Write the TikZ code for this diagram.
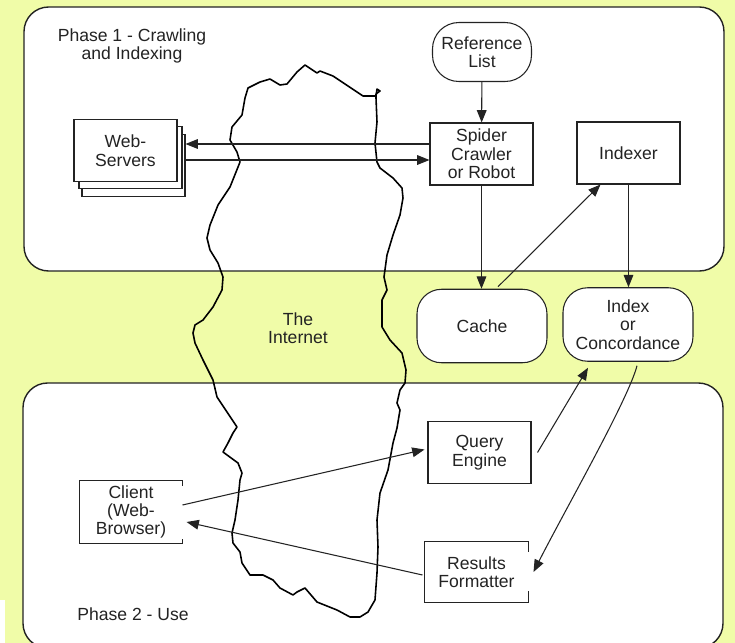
\documentclass[tikz,border=0pt]{standalone}
\usepackage{fontspec}
\setmainfont{Liberation Sans}
\usetikzlibrary{arrows.meta, calc, positioning}
\definecolor{bgyellow}{RGB}{240, 252, 168}
\definecolor{lineblack}{RGB}{35, 35, 35}

\begin{document}
\begin{tikzpicture}[x=0.02cm, y=-0.02cm,
    box/.style={draw=lineblack, line width=0.6pt, fill=white, align=center, inner sep=0pt,
        minimum width=2.06cm, minimum height=1.24cm, text=lineblack, font=\fontsize{10}{10.5}\selectfont},
    openbox/.style={box, draw=none},
    store/.style={box, rounded corners=14pt, minimum width=2.6cm, minimum height=1.47cm},
    refbox/.style={box, rounded corners=15pt, minimum width=1.98cm, minimum height=1.18cm},
    phase/.style={draw=lineblack, line width=0.8pt, fill=white, rounded corners=14pt},
    boxline/.style={draw=lineblack, line width=0.6pt},
    arr/.style={-{Triangle[length=7pt, width=5.5pt]}, line width=0.6pt, lineblack},
    lbl/.style={align=center, inner sep=0pt, text=lineblack, font=\fontsize{10}{10.5}\selectfont}]
    \useasboundingbox (0,0) rectangle (735,643);
    \fill[bgyellow] (0,0) rectangle (735,643);
    \fill[white] (0,600) rectangle (5,643);

    % Phase panels
    \draw[phase] (24,7) rectangle (724,271);
    \draw[phase] (23,383) rectangle (723,648);
    \node[lbl] (phaseone) at (132,46) {Phase 1 - Crawling\\and Indexing};
    \node[lbl, anchor=west] (phasetwo) at (77,614) {Phase 2 - Use};

    % The Internet
    \draw[line width=0.9pt, line join=round] (248,88) -- (260,82) -- (270,79) -- (280,85) -- (287,84)
        -- (297,72) -- (305,65) -- (317,73) -- (320,71) -- (333,76) -- (363,96) -- (376,96)
        -- (377,89) -- (380,91) -- (376,94) -- (376,98) -- (377,122) -- (375,143) -- (377,162)
        -- (380,168) -- (393,178) -- (402,188) -- (403,198) -- (400,215) -- (393,235) -- (387,255)
        -- (384,277) -- (387,290) -- (382,300) -- (382,327) -- (390,340) -- (402,353) -- (406,370)
        -- (405,383) -- (400,390) -- (397,403) -- (400,410) -- (397,428) -- (393,443) -- (388,470)
        -- (380,493) -- (377,520) -- (378,547) -- (377,573) -- (375,600) -- (368,612) -- (360,617)
        -- (350,617) -- (337,610) -- (317,602) -- (305,588) -- (297,592) -- (293,595) -- (280,588)
        -- (273,580) -- (263,575) -- (250,575) -- (242,563) -- (240,552) -- (233,543) -- (232,533)
        -- (235,520) -- (238,500) -- (240,480) -- (242,473) -- (238,463) -- (223,452) -- (228,443)
        -- (233,433) -- (237,427) -- (217,397) -- (213,380) -- (203,360) -- (195,343) -- (193,333)
        -- (195,325) -- (203,320) -- (213,307) -- (222,290) -- (223,277) -- (218,263) -- (210,250)
        -- (207,238) -- (210,225) -- (218,205) -- (230,187) -- (240,162) -- (237,152) -- (230,140)
        -- (232,127) -- (242,115) -- (245,98) -- cycle;
    \node[lbl] (internet) at (298,328) {The\\Internet};

    % Phase 1 nodes
    \foreach \dx/\dy in {8/15, 5/7} {
        \node[box] at ($(125.5,150.5)+(\dx,\dy)$) {};
    }
    \node[box] (web) at (125.5,150.5) {Web-\\Servers};
    \coordinate (wsback) at ($(web.east)+(8,0)$);
    \node[refbox] (reflist) at (482,52) {Reference\\List};
    \node[box] (spider) at (481.5,154) {Spider\\Crawler\\or Robot};
    \node[box] (indexer) at (628.5,153) {Indexer};
    \node[store] (cache) at (482,326) {Cache};
    \node[store] (index) at (628,324.5) {Index\\or\\Concordance};

    % Phase 2 nodes
    \node[box] (query) at (479.5,452.5) {Query\\Engine};
    \node[openbox, minimum width=2.06cm, minimum height=1.2cm] (results) at (476.5,572) {Results\\Formatter};
    \node[openbox, minimum width=2.04cm] (client) at (131,512) {Client\\(Web-\\Browser)};
    \draw[boxline] (results.north east) -- (results.north west) -- (results.south west) -- (results.south east) -- ++(0,-12);
    \draw[boxline] (results.north east) -- ++(0,11);
    \draw[boxline] (client.north east) -- (client.north west) -- (client.south west) -- (client.south east) -- ++(0,-5);
    \draw[boxline] (client.north east) -- ++(0,6);

    % Connectors
    \draw[arr] (reflist) -- (spider);
    \draw[arr] (spider.west |- 0,144) -- (wsback |- 0,144);
    \draw[arr] (wsback |- 0,160) -- (spider.west |- 0,160);
    \draw[arr] (spider.south) -- (spider.south |- cache.north);
    \draw[arr] ($(cache.north)+(16,-2)$) -- ($(indexer.south)+(-28,0)$);
    \draw[arr] (indexer.south) -- (indexer.south |- index.north);
    \draw[arr] ($(query.east)+(6,0)$) -- ($(index.south)+(-40,6)$);
    \draw[arr] ($(index.south)+(9,4)$) .. controls (628,400) and (565,510) .. ($(results.east)+(5,0)$);
    \draw[arr] ($(client.east)+(0,-7)$) -- ($(query.west)+(-3,-3)$);
    \draw[arr] ($(results.west)+(-2,3)$) -- ($(client.east)+(4,10)$);
\end{tikzpicture}
\end{document}
